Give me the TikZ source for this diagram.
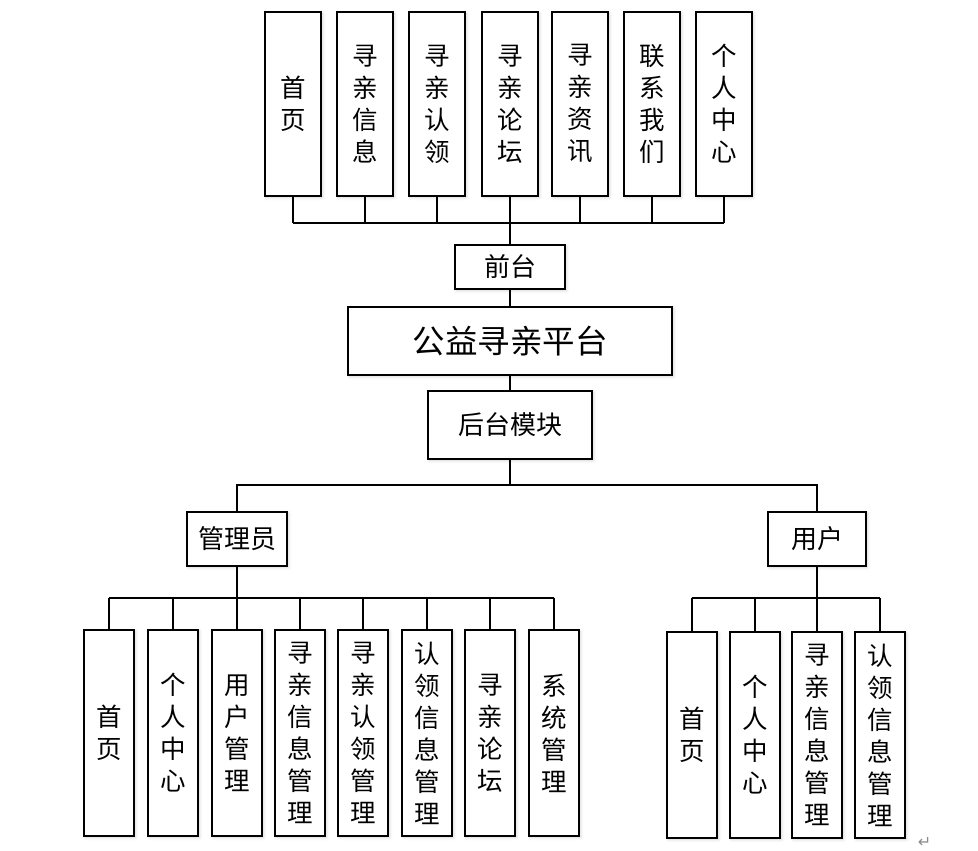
\documentclass[tikz,border=0pt]{standalone}
\usepackage{fontspec}
\setmainfont{Noto Sans CJK SC}
\newfontfamily\dejavu{DejaVu Sans}
\usetikzlibrary{shadows.blur}
\tikzset{
  box/.style={draw, line width=2pt, fill=white, inner sep=0pt, align=center,
    blur shadow={shadow xshift=1.5pt, shadow yshift=-1.5pt, shadow blur radius=3pt, shadow opacity=18}},
  topbox/.style={box, minimum width=56pt, minimum height=184pt, font=\fontsize{25.5}{32}\selectfont},
  botbox/.style={box, minimum width=50pt, minimum height=206pt, font=\fontsize{25.5}{32}\selectfont},
  hbox/.style={box, font=\fontsize{26}{30}\selectfont},
  link/.style={line width=2pt}
}
\begin{document}
\begin{tikzpicture}[x=1pt,y=-1pt]
\useasboundingbox (0,0) rectangle (978,851);
% top row
\node[topbox] (t1) at (293,104) {首\\页};
\node[topbox] (t2) at (365,104) {寻\\亲\\信\\息};
\node[topbox] (t3) at (437,104) {寻\\亲\\认\\领};
\node[topbox] (t4) at (510,104) {寻\\亲\\论\\坛};
\node[topbox] (t5) at (580,104) {寻\\亲\\资\\讯};
\node[topbox] (t6) at (652,104) {联\\系\\我\\们};
\node[topbox] (t7) at (724,104) {个\\人\\中\\心};
\coordinate (bt) at (510,223);
% middle
\node[hbox, minimum width=110pt, minimum height=44pt] (qt) at (510,267) {前台};
\node[hbox, minimum width=324pt, minimum height=68pt, font=\fontsize{32.5}{36}\selectfont] (plat) at (510,341) {公益寻亲平台};
\node[hbox, minimum width=164pt, minimum height=68pt] (hb) at (510,425) {后台模块};
\coordinate (bm) at (510,485);
\node[hbox, minimum width=100pt, minimum height=54pt] (admin) at (237,539) {管理员};
\node[hbox, minimum width=98pt, minimum height=54pt] (user) at (817,539) {用户};
\coordinate (ab) at (237,598);
\coordinate (ub) at (817,598);
% admin children
\node[botbox] (a1) at (109,733) {首\\页};
\node[botbox] (a2) at (173,733) {个\\人\\中\\心};
\node[botbox] (a3) at (237,733) {用\\户\\管\\理};
\node[botbox] (a4) at (300,733) {寻\\亲\\信\\息\\管\\理};
\node[botbox] (a5) at (363,733) {寻\\亲\\认\\领\\管\\理};
\node[botbox] (a6) at (427,733) {认\\领\\信\\息\\管\\理};
\node[botbox] (a7) at (490,733) {寻\\亲\\论\\坛};
\node[botbox] (a8) at (554,733) {系\\统\\管\\理};
% user children
\node[botbox] (u1) at (692,735) {首\\页};
\node[botbox] (u2) at (755,735) {个\\人\\中\\心};
\node[botbox] (u3) at (817,735) {寻\\亲\\信\\息\\管\\理};
\node[botbox] (u4) at (880,735) {认\\领\\信\\息\\管\\理};
% connectors
\foreach \n in {t1,t2,t3,t4,t5,t6,t7} \draw[link] (\n.south) -- (\n.south |- bt);
\draw[link] (t1.south |- bt) -- (t7.south |- bt);
\draw[link] (bt) -- (qt.north);
\draw[link] (qt.south) -- (plat.north);
\draw[link] (plat.south) -- (hb.north);
\draw[link] (hb.south) -- (bm);
\draw[link] (admin.north) |- (bm) -| (user.north);
\draw[link] (admin.south) -- (ab);
\foreach \n in {a1,a2,a3,a4,a5,a6,a7,a8} \draw[link] (\n.north) -- (\n.north |- ab);
\draw[link] (a1.north |- ab) -- (a8.north |- ab);
\draw[link] (user.south) -- (ub);
\foreach \n in {u1,u2,u3,u4} \draw[link] (\n.north) -- (\n.north |- ub);
\draw[link] (u1.north |- ub) -- (u4.north |- ub);
% paragraph mark
\node[text=black!45, font=\dejavu\fontsize{16}{16}\selectfont, inner sep=0pt] (ret) at (924.5,842) {↵};
\end{tikzpicture}
\end{document}
